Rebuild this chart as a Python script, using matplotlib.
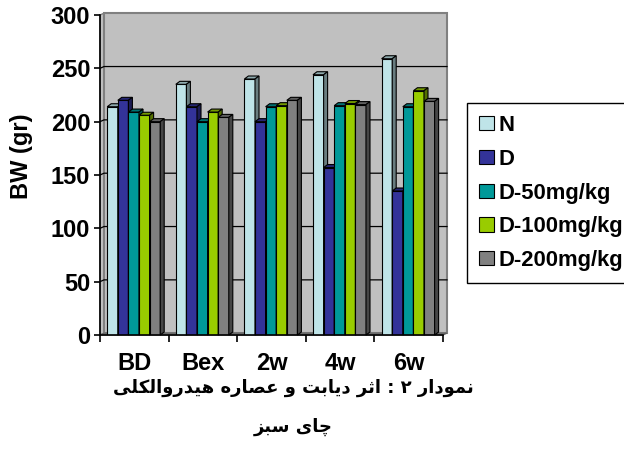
import matplotlib.pyplot as plt
import numpy as np
from matplotlib.patches import Polygon
from matplotlib.colors import to_rgb

# ===== Daten =====
categories = ['BD', 'Bex', '2w', '4w', '6w']
series = ['N', 'D', 'D-50mg/kg', 'D-100mg/kg', 'D-200mg/kg']
n_vals = [214, 235, 240, 244, 259]
d_vals = [220, 214, 200, 157, 135]
d50_vals = [209, 200, 214, 215, 214]
d100_vals = [206, 209, 215, 217, 229]
d200_vals = [200, 204, 220, 216, 219]
colors = ['#BFE4E8', '#333399', '#009999', '#99CC00', '#808080']
yticks = [0, 50, 100, 150, 200, 250, 300]

caption_1 = 'نمودار ۲ : اثر دیابت و عصاره هیدروالکلی'
caption_2 = 'چای سبز'

# ===== einfache arabische Formung (isol, final, init, medial) =====
FORMS = {
    'ا': ('\uFE8D', '\uFE8E', None, None),
    'ب': ('\uFE8F', '\uFE90', '\uFE91', '\uFE92'),
    'ت': ('\uFE95', '\uFE96', '\uFE97', '\uFE98'),
    'ث': ('\uFE99', '\uFE9A', '\uFE9B', '\uFE9C'),
    'د': ('\uFEA9', '\uFEAA', None, None),
    'ر': ('\uFEAD', '\uFEAE', None, None),
    'ز': ('\uFEAF', '\uFEB0', None, None),
    'س': ('\uFEB1', '\uFEB2', '\uFEB3', '\uFEB4'),
    'ص': ('\uFEB9', '\uFEBA', '\uFEBB', '\uFEBC'),
    'ع': ('\uFEC9', '\uFECA', '\uFECB', '\uFECC'),
    'ل': ('\uFEDD', '\uFEDE', '\uFEDF', '\uFEE0'),
    'م': ('\uFEE1', '\uFEE2', '\uFEE3', '\uFEE4'),
    'ن': ('\uFEE5', '\uFEE6', '\uFEE7', '\uFEE8'),
    'ه': ('\uFEE9', '\uFEEA', '\uFEEB', '\uFEEC'),
    'و': ('\uFEED', '\uFEEE', None, None),
    'ی': ('\uFBFC', '\uFBFD', '\uFBFE', '\uFBFF'),
    'ک': ('\uFB8E', '\uFB8F', '\uFB90', '\uFB91'),
    'چ': ('\uFB7A', '\uFB7B', '\uFB7C', '\uFB7D'),
}


def shape_rtl(text):
    out = []
    for i, ch in enumerate(text):
        if ch not in FORMS:
            out.append(ch)
            continue
        prev = text[i - 1] if i > 0 else ''
        nxt = text[i + 1] if i + 1 < len(text) else ''
        join_prev = prev in FORMS and FORMS[prev][2] is not None
        join_next = FORMS[ch][2] is not None and nxt in FORMS
        f = FORMS[ch]
        if join_prev and join_next:
            out.append(f[3])
        elif join_prev:
            out.append(f[1])
        elif join_next:
            out.append(f[2])
        else:
            out.append(f[0])
    return ''.join(reversed(out))


def shade(c, k):
    r, g, b = to_rgb(c)
    return (r * k, g * k, b * k)


values = [n_vals, d_vals, d50_vals, d100_vals, d200_vals]

W, H = 624, 450
fig = plt.figure(figsize=(W / 100, H / 100), dpi=100)
ax_l, ax_r, ax_t, ax_b = 100, 443, 15, 335
ax = fig.add_axes([ax_l / W, 1 - ax_b / H, (ax_r - ax_l) / W, (ax_b - ax_t) / H])
ax.set_xlim(0, 5)
ax.set_ylim(0, 300)
ax.set_facecolor('none')

# Pixel -> Datenumrechnung fuer den 3D-Versatz
px_x = 5 / (ax_r - ax_l)
px_y = 300 / (ax_b - ax_t)
dxw, dyw = 4 * px_x, 1.8 * px_y   # Rueckwand
dxb, dyb = 4 * px_x, 3 * px_y     # Saeulen

# ===== Rueckwand, Seitenwand, Boden =====
ax.add_patch(Polygon([(0, 0), (dxw, dyw), (dxw, 300 + dyw), (0, 300)],
                     closed=True, fc='#C0C0C0', ec='#808080', lw=1, zorder=0.4, clip_on=False))
ax.add_patch(Polygon([(dxw, dyw), (5 + dxw, dyw), (5 + dxw, 300 + dyw), (dxw, 300 + dyw)],
                     closed=True, fc='#C0C0C0', ec='#808080', lw=1.5, zorder=0.5, clip_on=False))
for v in yticks[1:-1]:
    ax.plot([0, dxw, 5 + dxw], [v, v + dyw, v + dyw], color='black', lw=0.9,
            zorder=0.6, clip_on=False)
ax.add_patch(Polygon([(0, 0), (5, 0), (5 + dxw, dyw), (dxw, dyw)],
                     closed=True, fc='#8C8C8C', ec='#606060', lw=0.8, zorder=0.7, clip_on=False))

# ===== Saeulen mit Ober- und Seitenflaeche =====
w = 0.1545
start = 0.105
handles = []
z = 2
for i in range(len(categories)):
    for j, vals in enumerate(values):
        x0 = i + start + j * w
        h = vals[i]
        bc = ax.bar(x0, h, width=w, align='edge', color=colors[j], edgecolor='black',
                    lw=0.8, zorder=z, label=series[j] if i == 0 else None)
        if i == 0:
            handles.append(bc)
        ax.add_patch(Polygon([(x0, h), (x0 + w, h), (x0 + w + dxb, h + dyb), (x0 + dxb, h + dyb)],
                             closed=True, fc=shade(colors[j], 0.75), ec='black', lw=0.8,
                             zorder=z, clip_on=False))
        ax.add_patch(Polygon([(x0 + w, 0), (x0 + w + dxb, dyb), (x0 + w + dxb, h + dyb), (x0 + w, h)],
                             closed=True, fc=shade(colors[j], 0.55), ec='black', lw=0.8,
                             zorder=z, clip_on=False))
        z += 0.01

# ===== Achsen =====
for s in ['top', 'right']:
    ax.spines[s].set_visible(False)
for s in ['left', 'bottom']:
    ax.spines[s].set_color('black')
    ax.spines[s].set_linewidth(1.2)
    ax.spines[s].set_zorder(5)

ax.set_yticks(yticks)
ax.set_yticklabels([str(t) for t in yticks], fontsize=17, fontweight='bold',
                   family='Liberation Sans')
ax.tick_params(axis='y', length=4, width=1.2, pad=3)

ax.set_xticks(np.arange(0, 6))
ax.set_xticklabels([])
ax.tick_params(axis='x', which='major', length=5, width=1.2)
ax.set_xticks(np.arange(len(categories)) + 0.5, minor=True)
ax.set_xticklabels(categories, minor=True, fontsize=17, fontweight='bold',
                   family='Liberation Sans')
ax.tick_params(axis='x', which='minor', length=0, pad=12)

ax.set_ylabel('BW (gr)', fontsize=17, fontweight='bold', family='Liberation Sans')
ax.yaxis.set_label_coords((33 - ax_l) / (ax_r - ax_l), (ax_b - 156) / (ax_b - ax_t))

# ===== Legende =====
leg = ax.legend(handles, series, loc='upper left',
                bbox_to_anchor=(467 / W, 1 - 103 / H), bbox_transform=fig.transFigure,
                prop={'family': 'Liberation Sans', 'weight': 'bold', 'size': 15.8},
                frameon=True, fancybox=False, framealpha=1, edgecolor='black',
                borderaxespad=0, borderpad=0.55, handlelength=0.68, handleheight=0.62,
                handletextpad=0.22, labelspacing=0.58)
leg.get_frame().set_linewidth(1)

# ===== Bildunterschrift =====
fig.text(293 / W, 1 - 388 / H, shape_rtl(caption_1), ha='center', va='center',
         fontsize=13, fontweight='bold', family='DejaVu Sans')
fig.text(293 / W, 1 - 427 / H, shape_rtl(caption_2), ha='center', va='center',
         fontsize=13, fontweight='bold', family='DejaVu Sans')

fig.savefig('out.png', dpi=100)
